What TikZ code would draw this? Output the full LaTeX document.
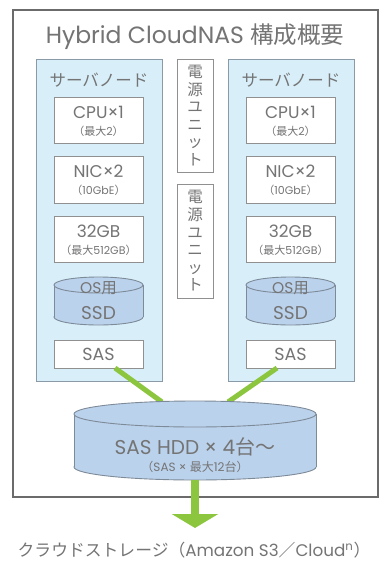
\documentclass[tikz,border=0pt]{standalone}
\usepackage{fontspec}
\setmainfont{Poppins}
\newfontfamily\jp{Noto Sans CJK JP}
\usetikzlibrary{calc,arrows.meta}
\definecolor{txt}{HTML}{747474}
\definecolor{framec}{HTML}{6B6B6B}
\definecolor{panelfill}{HTML}{D8EFFA}
\definecolor{panelline}{HTML}{8A9AA6}
\definecolor{boxline}{HTML}{909090}
\definecolor{cylfillc}{HTML}{BBD2EC}
\definecolor{cyllinec}{HTML}{7D8A98}
\definecolor{grn}{HTML}{8CC63F}
\begin{document}
\begin{tikzpicture}[x=1pt,y=-1pt,
  every node/.style={inner sep=0pt,outer sep=0pt,text=txt},
  frame/.style={draw=framec,line width=2.6pt,fill=white},
  panel/.style={draw=panelline,line width=0.9pt,fill=panelfill,minimum width=126pt,minimum height=322pt},
  box/.style={draw=boxline,line width=0.9pt,fill=white,minimum width=89pt},
  psu/.style={draw=boxline,line width=0.9pt,fill=white,minimum width=36pt,align=center,font=\jp\fontsize{15.5}{17.6}\selectfont},
  big/.style={font=\fontsize{17}{20}\selectfont},
  small/.style={font=\fontsize{11}{12}\selectfont},
  lbl/.style={font=\jp\fontsize{16.5}{18}\selectfont},
  cyl/.style={draw=cyllinec,line width=0.9pt,fill=cylfillc},
  link/.style={draw=grn,line width=5pt},
]
\useasboundingbox (0,0) rectangle (384,563);
% outer frame
\node[frame,minimum width=365pt,minimum height=487pt] (frame) at (195.5,253.5) {};
\node[font=\fontsize{23.5}{26}\selectfont] (title) at (195,37) {Hybrid CloudNAS {\jp 構成概要}};

% server panels
\foreach \s/\dx in {L/0,R/192}{
  \node[panel] (srv\s) at (99+\dx,220) {};
  \node[lbl] (srvlbl\s) at (99+\dx,80) {サーバノード};
  \node[box,minimum height=46pt] (cpu\s) at (98.5+\dx,120) {};
  \node[big] (cput\s) at (98.5+\dx,112.5) {CPU×1};
  \node[small] (cpus\s) at (98.5+\dx,131) {{\jp （最大}2{\jp ）}};
  \node[box,minimum height=47pt] (nic\s) at (98.5+\dx,179.5) {};
  \node[big] (nict\s) at (98.5+\dx,171.5) {NIC×2};
  \node[small] (nics\s) at (98.5+\dx,190) {{\jp （}10GbE{\jp ）}};
  \node[box,minimum height=46pt] (mem\s) at (98.5+\dx,239) {};
  \node[big] (memt\s) at (98.5+\dx,231.5) {32GB};
  \node[small] (mems\s) at (98.5+\dx,250) {{\jp （最大}512GB{\jp ）}};
  % SSD cylinder
  \path[cyl] (98.5+\dx,317) ellipse[x radius=44.5,y radius=8];
  \fill[cylfillc] (54+\dx,285) rectangle (143+\dx,317);
  \draw[cyllinec,line width=0.9pt] (54+\dx,285) -- (54+\dx,317) (143+\dx,285) -- (143+\dx,317);
  \path[cyl] (98.5+\dx,285) ellipse[x radius=44.5,y radius=8];
  \node[font=\fontsize{15.5}{17}\selectfont] (ssdo\s) at (98.5+\dx,288.5) {OS{\jp 用}};
  \node[font=\fontsize{18.5}{20}\selectfont] (ssdt\s) at (98.5+\dx,313) {SSD};
  \node[box,minimum height=28pt] (sas\s) at (98.5+\dx,354) {};
  \node[font=\fontsize{17.5}{20}\selectfont] (sast\s) at (98.5+\dx,354.5) {SAS};
}

% power units
\node[psu,minimum height=113pt] (psu1) at (195,115.5) {電\\源\\ユ\\ニ\\ッ\\ト};
\node[psu,minimum height=114pt] (psu2) at (195,241) {電\\源\\ユ\\ニ\\ッ\\ト};

% links
\coordinate (gL1) at ($(sasL.south)+(16.5,0)$);
\coordinate (gR1) at ($(sasR.south)+(-13.5,0)$);
\coordinate (gL2) at (162,402);
\coordinate (gR2) at (228,402);
\draw[link] (gL1) -- (gL2);
\draw[link] (gR1) -- (gR2);

% HDD cylinder
\path[cyl] (195,467) ellipse[x radius=121,y radius=13];
\fill[cylfillc] (74,414) rectangle (316,467);
\draw[cyllinec,line width=0.9pt] (74,414) -- (74,467) (316,414) -- (316,467);
\path[cyl] (195,414) ellipse[x radius=121,y radius=13];
\node[font=\fontsize{20}{22}\selectfont] (hddt) at (195,447) {SAS HDD × 4{\jp 台〜}};
\node[font=\fontsize{12}{14}\selectfont] (hdds) at (195,467) {{\jp （}SAS × {\jp 最大}12{\jp 台）}};

% arrow to cloud
\coordinate (hddb) at (195,479.5);
\coordinate (tip) at (195,528);
\draw[grn,line width=8pt,-{Triangle[width=46pt,length=14pt]}] (hddb) -- (tip);

\node[font=\fontsize{16.8}{19}\selectfont] (cloud) at (194,550) {{\jp クラウドストレージ（}Amazon S3{\jp ／}Cloud\textsuperscript{n}{\jp ）}};
\end{tikzpicture}
\end{document}
